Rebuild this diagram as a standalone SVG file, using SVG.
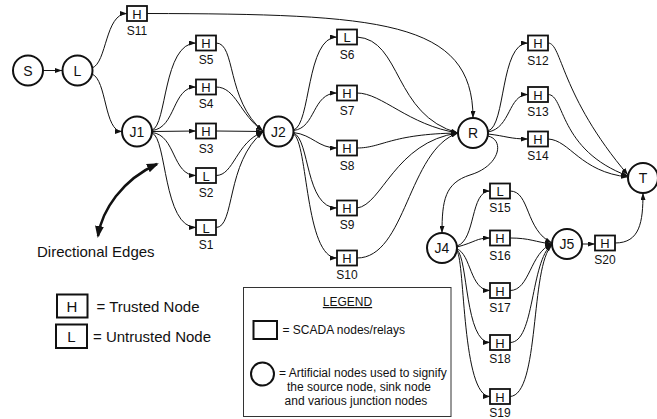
<svg xmlns="http://www.w3.org/2000/svg" width="657" height="419" viewBox="0 0 657 419">
<style>
text{font-family:"Liberation Sans",Arial,sans-serif;fill:#111}
.box{fill:#fff;stroke:#111;stroke-width:1.8}
.circ{fill:#fff;stroke:#111;stroke-width:2}
.in{font-size:13px;text-anchor:middle}
.lab{font-size:12px;text-anchor:middle}
.cl{font-size:14px;text-anchor:middle}
.e{fill:none;stroke:#111;stroke-width:1;marker-end:url(#a)}
.leg{font-size:15px}
.small{font-size:12px}
</style>
<defs>
<marker id="a" markerUnits="userSpaceOnUse" markerWidth="7" markerHeight="5" refX="7" refY="2.5" orient="auto">
<path d="M0,0 L7,2.5 L0,5 z" fill="#111"/>
</marker>
<marker id="b" markerUnits="userSpaceOnUse" markerWidth="12" markerHeight="9" refX="10" refY="4.5" orient="auto-start-reverse">
<path d="M0,0 L12,4.5 L0,9 z" fill="#111"/>
</marker>
</defs>
<g id="connectors">
<path class="e" d="M43,70.5 L62,70.5"/>
<path class="e" d="M92,68 C107,63 105,13.5 127,13.5"/>
<path class="e" d="M92,74 C107,80 104,131.5 122,131.5"/>
<path class="e" d="M147,13.5 C380,14 473,20 473,118"/>
<path class="e" d="M152,130 C167,126 163,43 196,43"/>
<path class="e" d="M152,130.5 C176,128 172,87 196,87"/>
<path class="e" d="M152,131.5 L196,131"/>
<path class="e" d="M152,132.5 C176,135 172,175.5 196,175.5"/>
<path class="e" d="M152,133 C167,138 163,227.5 196,227.5"/>
<path class="e" d="M216,43 C236,43 226,100 263,131"/>
<path class="e" d="M216,87 C236,87 240,115 263,131"/>
<path class="e" d="M216,131 L263,131.5"/>
<path class="e" d="M216,175.5 C234,175.5 236,142 263,132"/>
<path class="e" d="M216,227.5 C235,227.5 226,162 263,132"/>
<path class="e" d="M293.5,130 C311,125 306,37 337,37"/>
<path class="e" d="M293.5,130.5 C316,128 312,93 337,93"/>
<path class="e" d="M293.5,132.5 C313,135 318,148 337,148"/>
<path class="e" d="M293.5,133 C310,139 305,208 337,208"/>
<path class="e" d="M293.5,134 C308,142 305,258 337,258"/>
<path class="e" d="M357,37 C402,40 393,115 458,133"/>
<path class="e" d="M357,93 C382,93 408,125 458,133"/>
<path class="e" d="M357,148 C382,148 390,134 458,133"/>
<path class="e" d="M357,208 C382,205 395,142 458,133"/>
<path class="e" d="M357,258 C406,258 408,150 458,133"/>
<path class="e" d="M488,131 C506,126 500,43 528,43"/>
<path class="e" d="M488,132 C511,128 508,94.5 528,94.5"/>
<path class="e" d="M488,134 C506,136 510,139 528,139"/>
<path class="e" d="M488,136 C505,140 500,166 470,175 C445,183 442,200 442,233"/>
<path class="e" d="M548,43 C562,43 560,95 628,175"/>
<path class="e" d="M548,94.5 C565,94.5 558,150 628,176"/>
<path class="e" d="M548,139 C570,140 580,172 628,177"/>
<path class="e" d="M457,246 C476,240 470,191 490,191"/>
<path class="e" d="M457,247 C476,242 476,238 490,238"/>
<path class="e" d="M457,249 C471,254 470,290.5 490,290.5"/>
<path class="e" d="M457,250 C468,258 465,342.5 490,342.5"/>
<path class="e" d="M457,251 C465,262 462,396.5 490,396.5"/>
<path class="e" d="M510,191 C530,191 525,230 552,243"/>
<path class="e" d="M510,238 C530,238 535,242 552,244"/>
<path class="e" d="M510,290.5 C530,290.5 530,252 552,244"/>
<path class="e" d="M510,342.5 C535,342.5 530,262 552,244"/>
<path class="e" d="M510,396.5 C540,395 530,266 552,245"/>
<path class="e" d="M582,244 L595,244"/>
<path class="e" d="M615,243 C640,243 643,222 643,193"/>
<path d="M98,236 C102,210 122,180 157,164" fill="none" stroke="#111" stroke-width="2.5" marker-start="url(#b)" marker-end="url(#b)"/>
</g>
<g id="S"><circle class="circ" cx="28" cy="70.5" r="15"/><text class="cl" x="28" y="75.5">S</text></g>
<g id="L"><circle class="circ" cx="77.5" cy="70.5" r="15"/><text class="cl" x="77.5" y="75.5">L</text></g>
<g id="J1"><circle class="circ" cx="137" cy="131.5" r="15"/><text class="cl" x="137" y="136.5">J1</text></g>
<g id="J2"><circle class="circ" cx="278.5" cy="131.5" r="15"/><text class="cl" x="278.5" y="136.5">J2</text></g>
<g id="R"><circle class="circ" cx="473" cy="133" r="15"/><text class="cl" x="473" y="138">R</text></g>
<g id="T"><circle class="circ" cx="643" cy="178" r="15"/><text class="cl" x="643" y="183">T</text></g>
<g id="J4"><circle class="circ" cx="442" cy="248" r="15"/><text class="cl" x="442" y="253">J4</text></g>
<g id="J5"><circle class="circ" cx="567" cy="244" r="15"/><text class="cl" x="567" y="249">J5</text></g>
<g id="S11"><rect class="box" x="127" y="6" width="20" height="15"/><text class="in" x="137" y="18.5">H</text><text class="lab" x="137" y="35">S11</text></g>
<g id="S5"><rect class="box" x="196" y="35.5" width="20" height="15"/><text class="in" x="206" y="48">H</text><text class="lab" x="206" y="64">S5</text></g>
<g id="S4"><rect class="box" x="196" y="79.5" width="20" height="15"/><text class="in" x="206" y="92">H</text><text class="lab" x="206" y="108">S4</text></g>
<g id="S3"><rect class="box" x="196" y="123.5" width="20" height="15"/><text class="in" x="206" y="136">H</text><text class="lab" x="206" y="152.5">S3</text></g>
<g id="S2"><rect class="box" x="196" y="168" width="20" height="15"/><text class="in" x="206" y="180.5">L</text><text class="lab" x="206" y="196.5">S2</text></g>
<g id="S1"><rect class="box" x="196" y="220" width="20" height="15"/><text class="in" x="206" y="232.5">L</text><text class="lab" x="206" y="248.5">S1</text></g>
<g id="S6"><rect class="box" x="337" y="29.5" width="20" height="15"/><text class="in" x="347" y="42">L</text><text class="lab" x="347" y="58.5">S6</text></g>
<g id="S7"><rect class="box" x="337" y="85.5" width="20" height="15"/><text class="in" x="347" y="98">H</text><text class="lab" x="347" y="114.5">S7</text></g>
<g id="S8"><rect class="box" x="337" y="140.5" width="20" height="15"/><text class="in" x="347" y="153">H</text><text class="lab" x="347" y="169.5">S8</text></g>
<g id="S9"><rect class="box" x="337" y="200.5" width="20" height="15"/><text class="in" x="347" y="213">H</text><text class="lab" x="347" y="229">S9</text></g>
<g id="S10"><rect class="box" x="337" y="250.5" width="20" height="15"/><text class="in" x="347" y="263">H</text><text class="lab" x="347" y="279">S10</text></g>
<g id="S12"><rect class="box" x="528" y="35.5" width="20" height="15"/><text class="in" x="538" y="48">H</text><text class="lab" x="538" y="64.5">S12</text></g>
<g id="S13"><rect class="box" x="528" y="87" width="20" height="15"/><text class="in" x="538" y="99.5">H</text><text class="lab" x="538" y="115.5">S13</text></g>
<g id="S14"><rect class="box" x="528" y="131.5" width="20" height="15"/><text class="in" x="538" y="144">H</text><text class="lab" x="538" y="160">S14</text></g>
<g id="S15"><rect class="box" x="490" y="183.5" width="20" height="15"/><text class="in" x="500" y="196">L</text><text class="lab" x="500" y="212">S15</text></g>
<g id="S16"><rect class="box" x="490" y="230.5" width="20" height="15"/><text class="in" x="500" y="243">H</text><text class="lab" x="500" y="259.5">S16</text></g>
<g id="S17"><rect class="box" x="490" y="283" width="20" height="15"/><text class="in" x="500" y="295.5">H</text><text class="lab" x="500" y="311.5">S17</text></g>
<g id="S18"><rect class="box" x="490" y="335" width="20" height="15"/><text class="in" x="500" y="347.5">H</text><text class="lab" x="500" y="363">S18</text></g>
<g id="S19"><rect class="box" x="490" y="389" width="20" height="15"/><text class="in" x="500" y="401.5">H</text><text class="lab" x="500" y="417">S19</text></g>
<g id="S20"><rect class="box" x="595" y="235.5" width="20" height="15"/><text class="in" x="605" y="248">H</text><text class="lab" x="605" y="264">S20</text></g>
<g id="directional-label"><text class="leg" x="37" y="257">Directional Edges</text></g>
<g id="key">
<rect x="57" y="294.5" width="30.5" height="23" fill="#fff" stroke="#111" stroke-width="2"/>
<text class="leg" x="72" y="311.5" text-anchor="middle">H</text>
<text class="leg" x="96.5" y="311.5">= Trusted Node</text>
<rect x="56" y="324.5" width="31" height="23.5" fill="#fff" stroke="#111" stroke-width="2"/>
<text class="leg" x="71.5" y="341.5" text-anchor="middle">L</text>
<text class="leg" x="93" y="341.5">= Untrusted Node</text>
</g>
<g id="legend">
<rect x="243.5" y="287.5" width="207.5" height="129" fill="#fff" stroke="#333" stroke-width="1"/>
<text class="small" x="347.5" y="306" text-anchor="middle" text-decoration="underline">LEGEND</text>
<rect x="253.5" y="321" width="23.5" height="18" fill="#fff" stroke="#111" stroke-width="2"/>
<text class="small" x="282.5" y="333.5">= SCADA nodes/relays</text>
<circle cx="262.5" cy="374" r="11.5" fill="#fff" stroke="#111" stroke-width="2"/>
<text class="small" x="279" y="377">= Artificial nodes used to signify</text>
<text class="small" x="359" y="391" text-anchor="middle">the source node, sink node</text>
<text class="small" x="356" y="405" text-anchor="middle">and various junction nodes</text>
</g>
</svg>
